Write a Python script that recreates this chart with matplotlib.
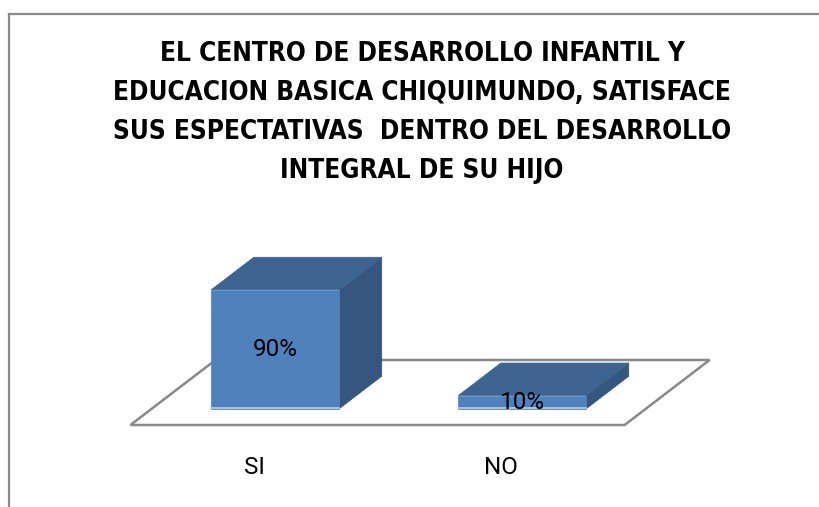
import matplotlib
matplotlib.use('Agg')
import matplotlib.pyplot as plt
from matplotlib.patches import Polygon
from matplotlib.lines import Line2D

# datos del grafico
categorias = ['SI', 'NO']
porcentajes = [90, 10]
etiquetas = ['90%', '10%']
titulo = ['EL CENTRO DE DESARROLLO INFANTIL Y',
          'EDUCACION BASICA CHIQUIMUNDO, SATISFACE',
          'SUS ESPECTATIVAS  DENTRO DEL DESARROLLO',
          'INTEGRAL DE SU HIJO']

# colores estilo excel
c_frente = '#4f81bd'
c_arriba = '#3d6491'
c_lado = '#35567f'
c_gris = '#898989'

fig = plt.figure(figsize=(8.2, 5.07), dpi=100)
ax = fig.add_axes([0, 0, 1, 1])
ax.set_xlim(-1.028, 2.291)
ax.set_ylim(-62.0, 321.4)
ax.axis('off')

# desplazamiento oblicuo para la profundidad (fondo completo del piso)
DX = 0.3441
DY = 49.16
ancho = 0.518

def p(x, v, d):
    return (x + d * DX, v + d * DY)

# piso
piso = Polygon([p(-0.5, 0, 0), p(1.5, 0, 0), p(1.5, 0, 1), p(-0.5, 0, 1)],
               closed=True, facecolor='white', edgecolor=c_gris, linewidth=1.8, zorder=1)
ax.add_patch(piso)

fuente = ['Roboto', 'DejaVu Sans']

# barras 3d
for i, v in enumerate(porcentajes):
    x0 = i - ancho / 2
    x1 = i + ancho / 2
    d0, d1 = 0.25, 0.75
    frente = [p(x0, 0, d0), p(x1, 0, d0), p(x1, v, d0), p(x0, v, d0)]
    arriba = [p(x0, v, d0), p(x1, v, d0), p(x1, v, d1), p(x0, v, d1)]
    lado = [p(x1, 0, d0), p(x1, 0, d1), p(x1, v, d1), p(x1, v, d0)]
    ax.add_patch(Polygon(lado, closed=True, facecolor=c_lado, edgecolor=c_lado, linewidth=0.5, zorder=2))
    ax.add_patch(Polygon(arriba, closed=True, facecolor=c_arriba, edgecolor=c_arriba, linewidth=0.5, zorder=2))
    ax.add_patch(Polygon(frente, closed=True, facecolor=c_frente, edgecolor=c_frente, linewidth=0.5, zorder=3))
    ax.plot([frente[0][0], frente[1][0]], [frente[0][1] + 0.6, frente[1][1] + 0.6],
            color='#b9cde5', linewidth=1.2, zorder=4)
    cx, cy = p(i, v / 2, d0)
    ax.text(cx, cy, etiquetas[i], ha='center', va='center', fontsize=17.5,
            family=fuente, color='black', zorder=5)
    ax.text(i, -32, categorias[i], ha='center', va='center', fontsize=17.5,
            family=fuente, color='black')

# titulo
ys = [54, 93, 132, 171]
for linea, y in zip(titulo, ys):
    fig.text(422 / 820, 1 - y / 507, linea, ha='center', va='center', fontsize=18.8,
             fontweight='bold', fontstretch='condensed', family='DejaVu Sans')

# borde del area del grafico
fig.add_artist(Line2D([9.5 / 820, 9.5 / 820], [0, 1 - 13.5 / 507], color=c_gris, linewidth=1.6))
fig.add_artist(Line2D([9.5 / 820, 1], [1 - 13.5 / 507, 1 - 13.5 / 507], color=c_gris, linewidth=1.6))

fig.savefig('out.png', dpi=100)
